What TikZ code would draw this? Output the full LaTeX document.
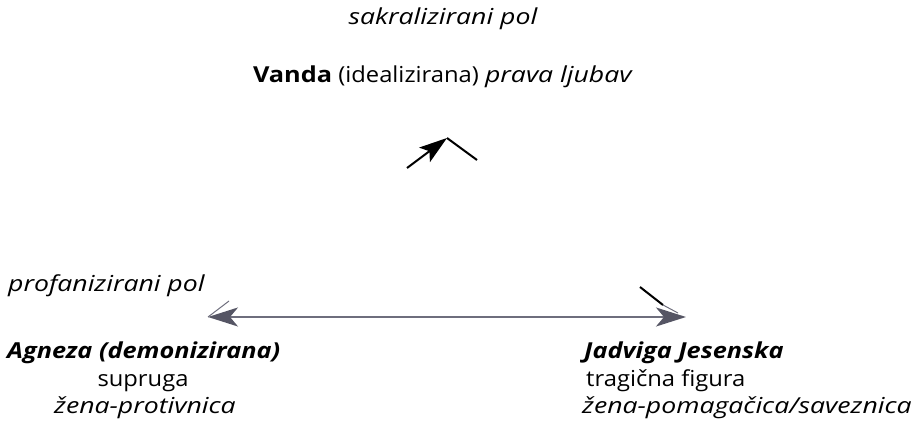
\documentclass[tikz,border=0pt]{standalone}
\usepackage{fontspec}
\setmainfont{Open Sans}[UprightFeatures={FakeStretch=1.08},BoldFeatures={FakeStretch=1.15},
	ItalicFeatures={FakeStretch=1.21},BoldItalicFeatures={FakeStretch=1.15}]
\usetikzlibrary{arrows.meta}
\definecolor{linegrey}{RGB}{110,110,125}
\definecolor{tipgrey}{RGB}{85,85,100}

\begin{document}
\begin{tikzpicture}[x=1pt,y=-1pt,
	lbl/.style={inner sep=0pt,font=\fontsize{22}{26}\selectfont},
	greyline/.style={draw=linegrey,line width=1.6pt},
	greytip/.tip={Stealth[length=30pt,width=19pt,inset=8pt,color=tipgrey]}]
	
	\useasboundingbox (0,0) rectangle (919,425);
	
	% upper pole
	\node[lbl,anchor=base] (sakral) at (443,25) {\itshape sakralizirani pol};
	\node[lbl,anchor=base] (vanda) at (443,83) {\textbf{Vanda} (idealizirana) \textit{prava ljubav}};
	
	\coordinate (ttail) at (407,168);
	\coordinate (ttip) at (447,138);
	\coordinate (tend) at (477,160);
	\draw[line width=2pt,-{Stealth[length=28pt,width=18pt,inset=6pt]}] (ttail) to (ttip);
	\draw[line width=2pt] (ttip) to (tend);
	
	% lower pole
	\node[lbl,anchor=base west] (profan) at (8,291) {\itshape profanizirani pol};
	
	\coordinate (lt) at (208,317);
	\coordinate (rt) at (686,317);
	\coordinate (lbarb) at (229,301);
	\coordinate (rbarb) at (640,287);
	\coordinate (rmid) at (663,305);
	\coordinate (rnear) at (678,313);
	\draw[greyline,greytip-greytip] (lt) to (rt);
	\draw[linegrey,line width=1pt] (lt) to (lbarb);
	\draw[line width=2pt] (rbarb) to (rmid);
	\draw[linegrey,line width=1pt] (rmid) to (rnear);
	
	\node[lbl,anchor=base west] (agneza) at (7,358) {\textbf{\textit{Agneza (demonizirana)}}};
	\node[lbl,anchor=base] (supruga) at (143,386) {supruga};
	\node[lbl,anchor=base] (protiv) at (145,413) {\itshape žena-protivnica};
	
	\node[lbl,anchor=base west] (jadviga) at (584,358) {\textbf{\textit{Jadviga Jesenska}}};
	\node[lbl,anchor=base west] (tragic) at (586,386) {tragična figura};
	\node[lbl,anchor=base west] (pomag) at (582,413) {\itshape žena-pomagačica/saveznica};
	
\end{tikzpicture}
\end{document}
